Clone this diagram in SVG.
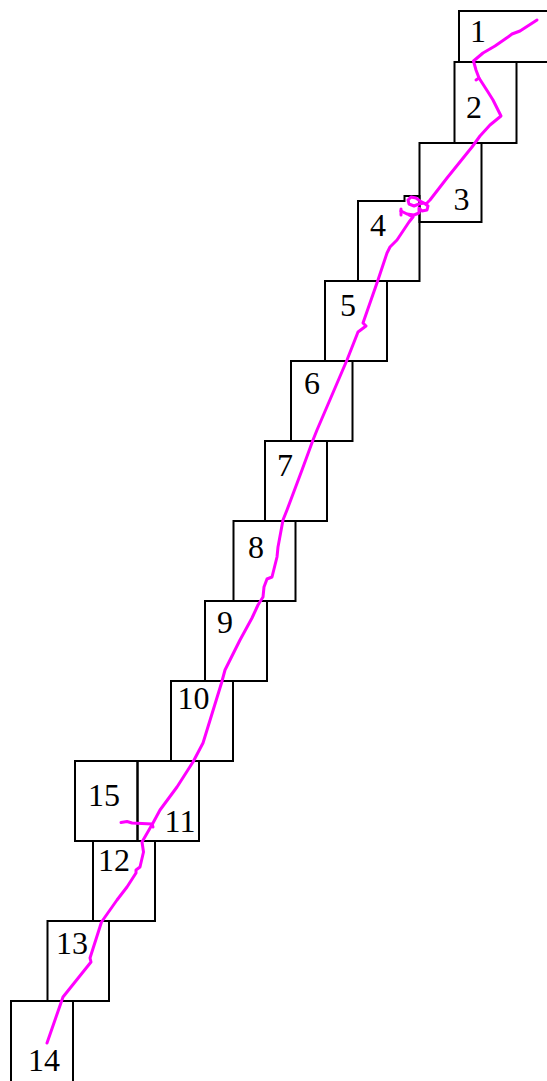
<svg xmlns="http://www.w3.org/2000/svg" width="547" height="1081" viewBox="0 0 547 1081">
<style>
.b{fill:none;stroke:#000;stroke-width:2}
.t{font-family:"Liberation Serif","Times New Roman",serif;font-size:32px;fill:#000;text-anchor:middle}
.trk{fill:none;stroke:#ff00ff;stroke-width:3;stroke-linejoin:round;stroke-linecap:round}
</style>
<rect x="0" y="0" width="547" height="1081" fill="#fff"/>
<g id="n1"><rect class="b" x="459" y="11" width="100" height="51"/><text class="t" x="478" y="42">1</text></g>
<g id="n2"><rect class="b" x="454.5" y="62" width="62" height="81"/><text class="t" x="474" y="118">2</text></g>
<g id="n3"><rect class="b" x="419.5" y="143" width="62" height="79"/><text class="t" x="461.5" y="210">3</text></g>
<g id="n4"><path class="b" d="M358,201 H404.5 V196 H419.5 V281 H358 Z"/><text class="t" x="378" y="236">4</text></g>
<g id="n5"><rect class="b" x="325" y="281" width="62" height="80"/><text class="t" x="348" y="316">5</text></g>
<g id="n6"><rect class="b" x="291" y="361" width="61.5" height="80"/><text class="t" x="312" y="394">6</text></g>
<g id="n7"><rect class="b" x="265" y="441" width="62" height="80"/><text class="t" x="285" y="476">7</text></g>
<g id="n8"><rect class="b" x="233.5" y="521" width="62" height="80"/><text class="t" x="256" y="558">8</text></g>
<g id="n9"><rect class="b" x="205" y="601" width="62" height="80"/><text class="t" x="225" y="633">9</text></g>
<g id="n10"><rect class="b" x="171" y="681" width="62" height="80"/><text class="t" x="193.5" y="709">10</text></g>
<g id="n15"><rect class="b" x="75" y="761" width="62.5" height="80"/><text class="t" x="104" y="806">15</text></g>
<g id="n11"><rect class="b" x="137.5" y="761" width="61.5" height="80"/><text class="t" x="180" y="832">11</text></g>
<g id="n12"><rect class="b" x="93" y="841" width="62" height="80"/><text class="t" x="114" y="871">12</text></g>
<g id="n13"><rect class="b" x="47.5" y="921" width="61.5" height="80"/><text class="t" x="72" y="954">13</text></g>
<g id="n14"><rect class="b" x="11" y="1001" width="62" height="90"/><text class="t" x="44" y="1071">14</text></g>
<g id="connectors">
<path class="trk" d="M537,20 L520,31 L512,34 L508,37 L495,46 L483,53 L473.5,61 L476,70 L479,78 L488,92 L493,100 L501,116 L490,125 L480,136 L472,147 L447,178 L430,200 L426,204 L420,201 L416,198 L411,197 L408,200 L409,204 L414,206 L419,204 L424,203 L428,206 L427,210 L422,211 L419,208 L419,213 L414,215 L407,214 L401,211 M407,214 L413,217 L409,222 L405,228 L397,240 L390,247 L387,253 L378,280 L363,323 L366,326 L358,332 L347,360 L317,430 L313,440 L302,470 L287,510 L283,520 L278,547 L277,557 L272,577 L267,579 L264,587 L263,597 L258,605 L252,618 L240,640 L225,670 L221.5,683 L203,743 L193,762 L177,787 L160,810 L153,823 L142,842 L143.5,852 L140,867 L136,870 L136,873 L127,887 L117,900 L101.5,922 L90,958 L91,962 L63,997 L47,1043"/>
<path class="trk" d="M121,822.5 L127,821.5 L132,823 L152,824 L153,827"/>
<path class="trk" d="M479,78 L476,80"/>
<path class="trk" d="M401,209 L401,215"/>
</g>
</svg>
